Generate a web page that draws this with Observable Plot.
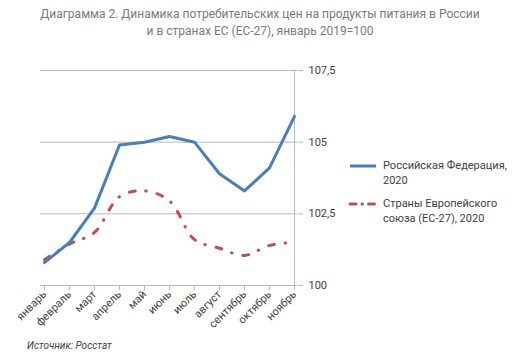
<!DOCTYPE html>
<html><head><meta charset="utf-8">
<script src="https://cdn.jsdelivr.net/npm/d3@7"></script>
<script src="https://cdn.jsdelivr.net/npm/@observablehq/plot@0.6"></script>
<style>
body{margin:0;background:#fff;}
#wrap{position:relative;width:520px;height:359px;overflow:hidden;font-family:Roboto,sans-serif;}
#title{position:absolute;left:0;top:6px;width:520px;text-align:center;font-size:12px;line-height:17px;color:#7a7a7a;}
#source{position:absolute;left:27px;top:340px;font-size:10px;font-style:italic;color:#404040;}
#legend{position:absolute;left:348px;top:158px;font-size:11px;color:#404040;line-height:15px;}
.item{position:relative;padding-left:35px;margin-bottom:8px;}
.item svg{position:absolute;left:0;top:2px;}
#chart{position:absolute;left:0;top:0;}
</style></head>
<body><div id="wrap">
<div id="chart"></div>
<div id="title">Диаграмма 2. Динамика потребительских цен на продукты питания в России<br>и в странах ЕС (ЕС-27), январь 2019=100</div>
<div id="legend"></div>
<div id="source">Источник: Росстат</div>
</div>
<script>
const months = ["январь","февраль","март","апрель","май","июнь","июль","август","сентябрь","октябрь","ноябрь"];
const russia = [100.8,101.5,102.7,104.9,105.0,105.2,105.0,103.9,103.3,104.1,105.9];
const eu = [100.9,101.45,101.85,103.1,103.3,102.95,101.6,101.3,101.05,101.4,101.5];
const yTicks = [100,102.5,105,107.5];
const seriesNames = ["Российская Федерация,\n2020","Страны Европейского\nсоюза (ЕС-27), 2020"];

const blue = "#4a7ebb", red = "#c0504d", grid = "#b8b8b8";
const dash = "6,10.5,0.5,11";

const rus = months.map((m,i)=>({m, v: russia[i]}));
const eur = months.map((m,i)=>({m, v: eu[i]}));

const chart = Plot.plot({
  width: 520, height: 359,
  marginLeft: 40, marginRight: 223, marginTop: 70, marginBottom: 74,
  style: {fontFamily: "Roboto, sans-serif", fontSize: "11px", color: "#404040", background: "transparent"},
  x: {type: "point", domain: months, padding: 0, label: null},
  y: {domain: [100, 107.5], label: null},
  marks: [
    Plot.gridY(yTicks, {stroke: grid, strokeOpacity: 1}),
    Plot.ruleY([100], {stroke: grid}),
    Plot.ruleX([months[months.length-1]], {y1: 100, y2: 107.5, stroke: grid}),
    Plot.axisY(yTicks, {anchor: "right", tickSize: 5, tickPadding: 6, stroke: grid, fill: "#404040",
      tickFormat: d => String(d).replace(".", ",")}),
    Plot.axisX({anchor: "bottom", tickSize: 5, tickPadding: 2, tickRotate: -45, stroke: grid, fill: "#404040"}),
    Plot.line(eur, {x: "m", y: "v", curve: "catmull-rom", stroke: red, strokeWidth: 3, strokeDasharray: dash, strokeLinecap: "round"}),
    Plot.line(rus, {x: "m", y: "v", stroke: blue, strokeWidth: 3, strokeLinejoin: "round"})
  ]
});
document.getElementById("chart").appendChild(chart);

const legend = document.getElementById("legend");
[[blue, null],[red, dash]].forEach(([c, d], i) => {
  const div = document.createElement("div");
  div.className = "item";
  div.innerHTML = `<svg width="30" height="12"><line x1="2" x2="28" y1="6" y2="6" stroke="${c}" stroke-width="3" ${d ? `stroke-dasharray="6,6,0.5,6" stroke-linecap="round"` : ""}/></svg>` +
    seriesNames[i].replace("\n", "<br>");
  legend.appendChild(div);
});
</script>
</body></html>
